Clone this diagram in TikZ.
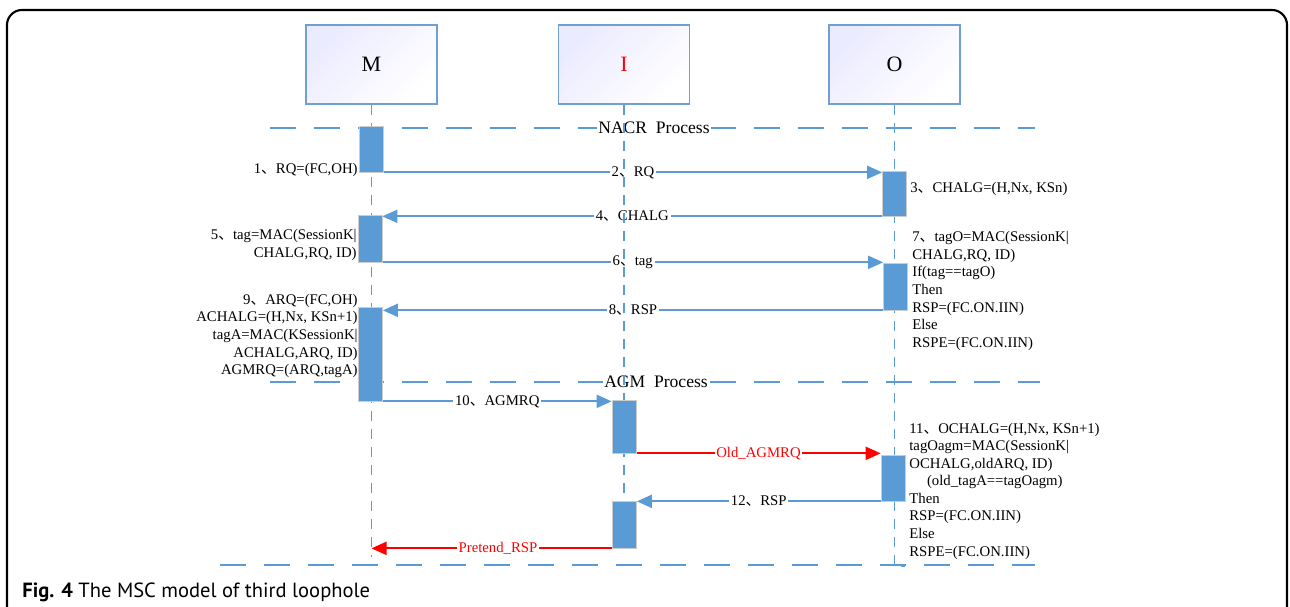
\documentclass[tikz,border=0pt]{standalone}
\usepackage{fontspec}
\setmainfont{Liberation Serif}
\setsansfont{PT Sans}
\newfontfamily\cjkfont{Noto Sans CJK SC}
\usetikzlibrary{arrows.meta,positioning,calc}

\definecolor{msgblue}{HTML}{5B9BD5}
\definecolor{boxline}{HTML}{6F9FD3}
\newcommand{\dun}{{\cjkfont 、}}
\newcommand{\msgfont}{\fontsize{8.4}{10}\selectfont}

\pgfdeclarelayer{front}
\pgfsetlayers{main,front}

\begin{document}
\begin{tikzpicture}[
    x=0.02cm, y=-0.02cm,
    >={Triangle[length=3mm,width=2.6mm]},
    actor/.style={draw=boxline, line width=0.8pt, top color=blue!8!white, bottom color=white, shading angle=45,
                  minimum width=26.2mm, minimum height=15.8mm, font=\fontsize{12.5}{14}\selectfont},
    bar/.style={draw=gray!40, fill=msgblue, minimum width=4.8mm, inner sep=0pt},
    life/.style={msgblue, line width=1.1pt, dash pattern=on 2mm off 1.6mm},
    frameline/.style={msgblue, line width=1.1pt, dash pattern=on 5.2mm off 3.6mm},
    msg/.style={->, msgblue, line width=1.1pt},
    attack/.style={->, red, line width=1.1pt},
    lbl/.style={fill=white, inner sep=1pt, text=black, font=\msgfont},
    note/.style={inner sep=0pt, font=\msgfont},
    phase/.style={fill=white, inner sep=1pt, font=\fontsize{10}{12}\selectfont},
]
\useasboundingbox (0,0) rectangle (1290,607);

% outer frame
\draw[line width=1.2pt, rounded corners=3mm] (7,640) -- (7,10) -- (1287,10) -- (1287,640);

% actors
\node[actor] (M) at (371.5,64.5) {M};
\node[actor] (I) at (624,64.5) {\textcolor{red}{I}};
\node[actor] (O) at (894.5,64.5) {O};

% activation bars
\begin{pgfonlayer}{front}
\node[bar, minimum height=9.2mm]  (m1) at (371.5,149)   {};
\node[bar, minimum height=9mm]    (o1) at (894.5,193.5) {};
\node[bar, minimum height=9.4mm]  (m2) at (370,238.5)   {};
\node[bar, minimum height=9.4mm]  (o2) at (895.5,286.5) {};
\node[bar, minimum height=18.8mm] (m3) at (370.5,354)   {};
\node[bar, minimum height=10.6mm] (i1) at (624,426.5)   {};
\node[bar, minimum height=9.2mm]  (o3) at (893,478)     {};
\node[bar, minimum height=9.4mm]  (i2) at (624.5,524.5) {};
\end{pgfonlayer}

% phases
\draw[frameline] (270,128) -- (1035,128);
\node[phase] (nacr) at (654,128) {NACR~~Process};
\draw[frameline] (270,382) -- (1040,382);
\node[phase] (agm) at (656,382) {AGM~~Process};
\draw[frameline] (220,565) -- (1035,565);

% messages
\draw[msg] (m1.south east) -- (m1.south east -| o1.west) node[lbl, midway] {2\dun RQ};
\draw[msg] (o1.south west) -- (o1.south west -| m2.east) node[lbl, midway] {4\dun CHALG};
\draw[msg] (m2.south east) -- (m2.south east -| o2.west) node[lbl, midway] {6\dun tag};
\draw[msg] (o2.south west) -- (o2.south west -| m3.east) node[lbl, midway] {8\dun RSP};
\draw[msg] (m3.south east) -- (m3.south east -| i1.west) node[lbl, midway] {10\dun AGMRQ};
\draw[attack] (i1.south east) -- (i1.south east -| o3.west) node[lbl, midway, text=red] {Old\_AGMRQ};
\draw[msg] (o3.south west) -- (o3.south west -| i2.east) node[lbl, midway] {12\dun RSP};
\draw[attack] (i2.south) -- (i2.south -| M) node[lbl, midway, text=red] {Pretend\_RSP};

% lifelines
\draw[life] (M.south) -- ++(0,452);
\draw[life] (I.south) -- ++(0,444);
\draw[life] (O.south) -- ++(0,461) -- ++(10,0);

% notes
\node[note, anchor=east] (n1) at (358,170) {1\dun RQ=(FC,OH)};
\node[note, anchor=west] (n3) at (910,189) {3\dun CHALG=(H,Nx, KSn)};
\node[note, anchor=east, align=right] (n5) at (357,245) {5\dun tag=MAC(SessionK|\\CHALG,RQ, ID)};
\node[note, anchor=west, align=left] (n7) at (912,291) {7\dun tagO=MAC(SessionK|\\CHALG,RQ, ID)\\If(tag==tagO)\\Then\\RSP=(FC.ON.IIN)\\Else\\RSPE=(FC.ON.IIN)};
\node[note, anchor=east, align=right] (n9) at (358,336) {9\dun ARQ=(FC,OH)\\ACHALG=(H,Nx, KSn+1)\\tagA=MAC(KSessionK|\\ACHALG,ARQ, ID)\\AGMRQ=(ARQ,tagA)};
\node[note, anchor=west, align=left] (n11) at (909,491) {11\dun OCHALG=(H,Nx, KSn+1)\\tagOagm=MAC(SessionK|\\OCHALG,oldARQ, ID)\\\hspace*{1.2em}(old\_tagA==tagOagm)\\Then\\RSP=(FC.ON.IIN)\\Else\\RSPE=(FC.ON.IIN)};

% caption
\node[anchor=west, inner sep=0pt, font=\sffamily\fontsize{11.7}{13}\selectfont] (cap) at (22,592) {\textbf{Fig. 4} The MSC model of third loophole};
\end{tikzpicture}
\end{document}
